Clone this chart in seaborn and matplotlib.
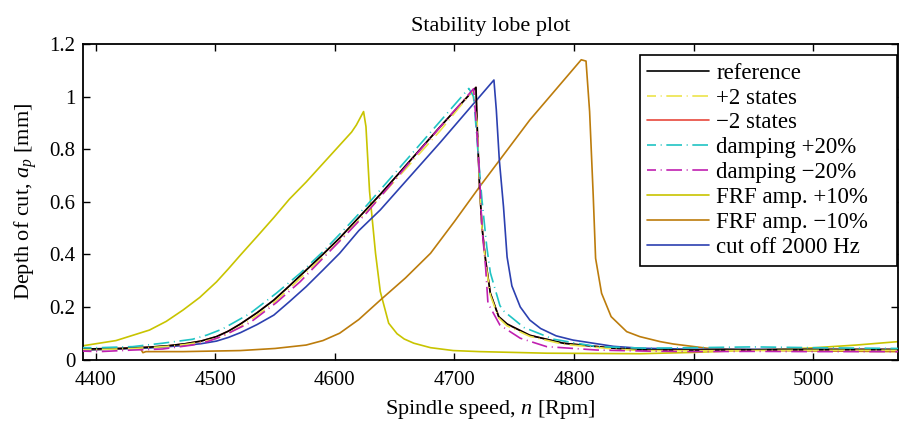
import numpy as np
import pandas as pd
import matplotlib
matplotlib.use("Agg")
import matplotlib.pyplot as plt
from matplotlib.ticker import FuncFormatter
import seaborn as sns

# values (spindle speed rpm, depth of cut mm)
ref_x = [4389, 4420, 4445, 4460, 4475, 4488, 4501, 4511, 4521, 4535, 4549, 4562,
         4576, 4590, 4604, 4620, 4638, 4688, 4718, 4719, 4721, 4723, 4726, 4730,
         4737, 4744, 4763, 4791, 4833, 4855, 4900, 4950, 5000, 5071]
ref_y = [0.040, 0.042, 0.047, 0.052, 0.060, 0.070, 0.087, 0.108, 0.135, 0.178, 0.226, 0.280,
         0.340, 0.400, 0.462, 0.540, 0.628, 0.885, 1.035, 0.886, 0.657, 0.505, 0.378, 0.252,
         0.163, 0.135, 0.092, 0.062, 0.043, 0.037, 0.036, 0.037, 0.038, 0.038]

plus2_x = [4389, 4420, 4445, 4460, 4475, 4488, 4501, 4511, 4521, 4535, 4549, 4562,
           4576, 4590, 4604, 4620, 4638, 4688, 4715, 4719, 4721, 4723, 4726, 4730,
           4737, 4744, 4763, 4791, 4833, 4855, 4900, 4950, 5000, 5071]
plus2_y = [0.038, 0.040, 0.045, 0.050, 0.057, 0.066, 0.080, 0.099, 0.125, 0.168, 0.216, 0.270,
           0.330, 0.390, 0.452, 0.530, 0.618, 0.870, 1.020, 0.900, 0.660, 0.500, 0.370, 0.245,
           0.158, 0.128, 0.088, 0.058, 0.040, 0.034, 0.033, 0.034, 0.035, 0.035]

minus2_x = ref_x
minus2_y = ref_y

dplus_x = [4389, 4403, 4431, 4456, 4481, 4493, 4506, 4529, 4551, 4571, 4590, 4610,
           4627, 4670, 4712, 4716, 4720, 4723, 4727, 4730, 4738, 4741, 4758, 4783,
           4819, 4860, 4900, 4950, 5000, 5071]
dplus_y = [0.045, 0.045, 0.049, 0.062, 0.077, 0.093, 0.116, 0.175, 0.252, 0.328, 0.410, 0.505,
           0.588, 0.812, 1.031, 1.000, 0.770, 0.607, 0.429, 0.330, 0.205, 0.185, 0.122, 0.077,
           0.049, 0.043, 0.045, 0.048, 0.045, 0.042]

dminus_x = [4389, 4403, 4431, 4456, 4481, 4494, 4506, 4529, 4551, 4571, 4590, 4610,
            4627, 4670, 4716, 4719, 4721, 4723, 4726, 4728, 4738, 4755, 4777, 4819,
            4860, 4900, 4950, 5000, 5071]
dminus_y = [0.032, 0.030, 0.036, 0.040, 0.055, 0.069, 0.089, 0.140, 0.216, 0.296, 0.385, 0.478,
            0.560, 0.790, 1.030, 0.850, 0.700, 0.500, 0.353, 0.214, 0.131, 0.081, 0.049, 0.036,
            0.032, 0.030, 0.031, 0.030, 0.030]

frfp_x = [4389, 4417, 4445, 4459, 4473, 4487, 4501, 4511, 4521, 4535, 4549, 4562,
          4576, 4596, 4614, 4618, 4624, 4626, 4629, 4634, 4638, 4645, 4652, 4658,
          4666, 4680, 4699, 4721, 4777, 4855, 4900, 4939, 4995, 5036, 5071]
frfp_y = [0.052, 0.072, 0.112, 0.145, 0.188, 0.236, 0.295, 0.345, 0.397, 0.468, 0.540, 0.610,
          0.675, 0.775, 0.865, 0.892, 0.943, 0.886, 0.640, 0.404, 0.258, 0.138, 0.098, 0.078,
          0.062, 0.045, 0.034, 0.030, 0.024, 0.022, 0.027, 0.034, 0.043, 0.055, 0.068]

frfm_x = [4389, 4417, 4437, 4439.5, 4442, 4473, 4521, 4550, 4576, 4590, 4604, 4620,
          4638, 4659, 4680, 4700, 4721, 4763, 4806, 4810, 4813, 4816, 4818, 4823,
          4831, 4844, 4855, 4872, 4883, 4911, 4967, 5071]
frfm_y = [0.036, 0.040, 0.045, 0.026, 0.030, 0.030, 0.034, 0.042, 0.055, 0.072, 0.100, 0.152,
          0.226, 0.310, 0.404, 0.525, 0.657, 0.911, 1.140, 1.135, 0.943, 0.626, 0.385, 0.252,
          0.163, 0.106, 0.087, 0.068, 0.059, 0.043, 0.034, 0.030]

cut_x = [4389, 4445, 4473, 4488, 4501, 4511, 4521, 4535, 4549, 4562, 4576, 4590,
         4604, 4620, 4638, 4688, 4733, 4735, 4737.5, 4741, 4744, 4748, 4755, 4763,
         4772, 4785, 4799, 4833, 4855, 4900, 5071]
cut_y = [0.036, 0.044, 0.053, 0.060, 0.070, 0.084, 0.102, 0.133, 0.169, 0.220, 0.277, 0.340,
         0.404, 0.490, 0.569, 0.825, 1.063, 0.949, 0.759, 0.581, 0.390, 0.280, 0.200, 0.150,
         0.118, 0.090, 0.074, 0.050, 0.043, 0.039, 0.038]

labels = ["reference", "+2 states", "\u22122 states", "damping +20%", "damping \u221220%",
          "FRF amp. +10%", "FRF amp. \u221210%", "cut off 2000 Hz"]
colors = ["#000000", "#ece44a", "#e8483c", "#20c4c4", "#c020b0",
          "#c8c400", "#bc7c0c", "#2c40b0"]
dashdot = (4.0, (9.4, 2.8, 0.6, 2.8))
styles = ["-", dashdot, "-", dashdot, dashdot, "-", "-", "-"]
orders = [3.5, 4, 3, 4, 4, 2.5, 2.5, 2.5]

series = [(ref_x, ref_y), (plus2_x, plus2_y), (minus2_x, minus2_y), (dplus_x, dplus_y),
          (dminus_x, dminus_y), (frfp_x, frfp_y), (frfm_x, frfm_y), (cut_x, cut_y)]

frames = []
for lab, (xs, ys) in zip(labels, series):
    frames.append(pd.DataFrame({"n": xs, "ap": ys, "case": lab}))
df = pd.concat(frames, ignore_index=True)

sns.set_style("ticks")
plt.rcParams['font.family'] = ['Liberation Serif', 'DejaVu Serif']
plt.rcParams['mathtext.fontset'] = 'custom'
plt.rcParams['mathtext.rm'] = 'Liberation Serif'
plt.rcParams['mathtext.it'] = 'Liberation Serif:italic'
plt.rcParams['text.color'] = 'black'
plt.rcParams['axes.labelcolor'] = 'black'
plt.rcParams['xtick.color'] = 'black'
plt.rcParams['ytick.color'] = 'black'

fig = plt.figure(figsize=(9.01, 4.25), dpi=100)
ax = fig.add_axes([0.0921, 0.1541, 0.9045, 0.7424])

for lab, col, ls, zo in zip(labels, colors, styles, orders):
    sub = df[df["case"] == lab]
    sns.lineplot(data=sub, x="n", y="ap", ax=ax, color=col, linestyle=ls,
                 linewidth=1.2, label=lab, estimator=None, sort=False,
                 legend=False, zorder=zo)

ax.set_xlim(4389.4, 5070.8)
ax.set_ylim(0, 1.2)
ax.set_xticks([4400, 4500, 4600, 4700, 4800, 4900, 5000])
ax.set_yticks([0, 0.2, 0.4, 0.6, 0.8, 1.0, 1.2])
ax.yaxis.set_major_formatter(FuncFormatter(lambda v, p: "%g" % round(v, 2)))
ax.tick_params(direction="in", top=True, right=True, length=5, width=1,
               labelsize=15)
ax.tick_params(axis="x", pad=8)
ax.tick_params(axis="y", pad=5.5)
for s in ax.spines.values():
    s.set_visible(True)
    s.set_linewidth(1.3)
    s.set_color("black")

ax.set_title("Stability lobe plot", fontsize=16, pad=9)
ax.set_xlabel("Spindle speed, $n$ [Rpm]", fontsize=16, labelpad=6)
ax.set_ylabel("Depth of cut, $a_p$ [mm]", fontsize=16, labelpad=7)

# legend box spans from x=640 px to the right spine, top at y=55 px
handles, labs = ax.get_legend_handles_labels()
leg = ax.legend(handles, labs, loc="upper left",
                bbox_to_anchor=(0.6834, 0.0, 0.3153, 0.9651), mode="expand",
                borderaxespad=0, fontsize=16.5, frameon=True, fancybox=False,
                framealpha=1, edgecolor="black", handlelength=2.7,
                handletextpad=0.3, labelspacing=0.17, borderpad=0.33)
leg.get_frame().set_linewidth(1.2)

fig.savefig("out.png", dpi=100)
